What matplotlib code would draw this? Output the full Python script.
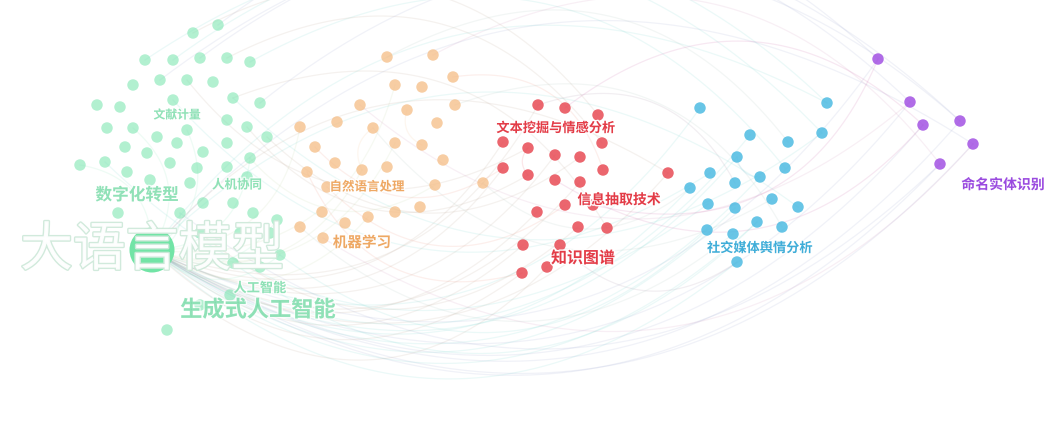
import numpy as np
import matplotlib
matplotlib.use('Agg')
import matplotlib.pyplot as plt
import matplotlib.patheffects as pe
from matplotlib.colors import to_rgb

plt.rcParams['font.family'] = ['Noto Sans CJK SC', 'DejaVu Sans']

# node positions (pixel coords), one list per cluster
green_x = [152, 218, 193, 145, 173, 200, 227, 250, 133, 160, 187, 213, 233, 97, 120, 173, 260,
           107, 133, 157, 187, 227, 247, 125, 147, 177, 203, 227, 267, 80, 105, 127, 170, 197,
           227, 250, 150, 190, 247, 118, 180, 203, 233, 253, 277, 200, 240, 270, 233, 260, 280,
           230, 200, 167]
green_y = [250, 25, 33, 60, 60, 58, 58, 62, 85, 80, 80, 82, 98, 105, 107, 100, 103,
           128, 128, 137, 130, 120, 127, 147, 153, 143, 152, 143, 137, 165, 162, 172, 163, 168,
           167, 158, 180, 183, 177, 213, 213, 203, 203, 213, 220, 233, 233, 233, 263, 267, 255,
           295, 305, 330]
orange_x = [387, 433, 453, 395, 422, 360, 407, 455, 300, 337, 373, 437, 315, 395, 422, 443, 307,
            335, 362, 387, 327, 435, 483, 322, 368, 395, 420, 300, 345, 323]
orange_y = [57, 55, 77, 85, 87, 105, 110, 105, 127, 122, 128, 123, 147, 143, 145, 160, 172,
            163, 170, 167, 187, 185, 183, 212, 217, 212, 207, 227, 223, 238]
red_x = [538, 565, 598, 503, 528, 555, 580, 602, 503, 528, 555, 580, 603, 668, 537, 565, 593,
         578, 607, 523, 560, 522, 547]
red_y = [105, 108, 115, 142, 148, 155, 157, 143, 168, 175, 180, 182, 170, 173, 212, 205, 205,
         227, 228, 245, 245, 273, 267]
blue_x = [700, 827, 822, 750, 788, 737, 785, 710, 760, 735, 690, 708, 735, 772, 798, 757, 782,
          707, 733, 737]
blue_y = [108, 103, 133, 135, 142, 157, 168, 173, 177, 183, 188, 204, 208, 199, 207, 222, 227,
          230, 234, 262]
purple_x = [878, 910, 923, 960, 973, 940]
purple_y = [59, 102, 125, 121, 144, 164]

# links between nodes: (cluster, index, cluster, index)
edges = [
    ('g', 0, 'p', 0), ('g', 0, 'p', 1), ('g', 0, 'p', 2), ('g', 0, 'p', 3), ('g', 0, 'p', 4),
    ('g', 0, 'p', 5), ('g', 0, 'b', 0), ('g', 0, 'b', 3), ('g', 0, 'b', 5), ('g', 0, 'b', 8),
    ('g', 0, 'b', 10), ('g', 0, 'b', 12), ('g', 0, 'b', 15), ('g', 0, 'b', 19), ('g', 0, 'r', 0),
    ('g', 0, 'r', 3), ('g', 0, 'r', 5), ('g', 0, 'r', 8), ('g', 0, 'r', 11), ('g', 0, 'r', 13),
    ('g', 0, 'r', 14), ('g', 0, 'r', 19), ('g', 0, 'r', 21), ('g', 0, 'o', 3), ('g', 0, 'o', 8),
    ('g', 0, 'o', 13), ('g', 0, 'o', 18), ('g', 0, 'o', 24),
    ('p', 0, 'g', 1), ('p', 1, 'g', 5), ('p', 3, 'g', 9), ('p', 4, 'g', 0), ('p', 5, 'o', 1),
    ('b', 1, 'g', 0), ('b', 2, 'g', 3), ('b', 4, 'o', 0), ('b', 6, 'g', 7), ('r', 2, 'g', 2),
    ('r', 7, 'g', 6), ('r', 12, 'o', 2), ('r', 13, 'g', 0), ('b', 9, 'r', 0), ('b', 14, 'g', 0),
    ('p', 2, 'r', 1), ('b', 16, 'o', 7), ('r', 18, 'g', 12), ('p', 3, 'g', 16), ('b', 1, 'g', 4),
    ('g', 10, 'r', 4), ('g', 15, 'b', 7), ('g', 22, 'r', 9), ('g', 30, 'b', 11), ('g', 40, 'p', 5),
    ('g', 45, 'r', 17), ('g', 50, 'b', 17), ('o', 10, 'b', 13), ('o', 20, 'r', 15), ('o', 27, 'b', 18),
    ('o', 29, 'p', 4), ('r', 10, 'p', 2), ('r', 20, 'b', 19), ('o', 16, 'r', 21), ('g', 52, 'r', 22),
    ('g', 48, 'b', 15), ('g', 35, 'o', 21), ('g', 28, 'r', 6), ('o', 5, 'p', 1), ('g', 12, 'b', 2),
    ('g', 0, 'g', 20), ('g', 0, 'g', 35), ('g', 0, 'g', 40), ('g', 0, 'g', 44), ('g', 0, 'g', 50),
    ('g', 0, 'g', 18), ('g', 0, 'g', 29), ('o', 6, 'o', 14), ('o', 10, 'o', 18), ('r', 4, 'r', 9),
    ('b', 5, 'b', 8), ('o', 12, 'r', 8), ('o', 22, 'b', 10), ('r', 16, 'p', 0),
]

# labels
label_text = ['大语言模型', '生成式人工智能', '人工智能', '数字化转型', '人机协同', '文献计量',
              '自然语言处理', '机器学习', '文本挖掘与情感分析', '信息抽取技术', '知识图谱',
              '社交媒体舆情分析', '命名实体识别']
label_x = [152, 258, 260, 137, 237, 177, 367, 362, 556, 619, 583, 760, 1003]
label_y = [250, 310, 288, 195, 185, 115, 187, 242, 128, 200, 258, 248, 185]
label_group = ['g', 'g', 'g', 'g', 'g', 'g', 'o', 'o', 'r', 'r', 'r', 'b', 'p']
label_size = [38, 16, 9.5, 12, 9, 8.5, 9, 10.5, 9.5, 10, 11.5, 9.5, 10]

pos = {'g': (green_x, green_y), 'o': (orange_x, orange_y), 'r': (red_x, red_y),
       'b': (blue_x, blue_y), 'p': (purple_x, purple_y)}
node_col = {'g': '#7fe6b2', 'o': '#f5bd85', 'r': '#e84b55', 'b': '#4dbbe2', 'p': '#a352e3'}
node_alpha = {'g': 0.6, 'o': 0.75, 'r': 0.85, 'b': 0.85, 'p': 0.85}
text_col = {'g': '#6fd9a2', 'o': '#eea45c', 'r': '#e2323e', 'b': '#35a9d6', 'p': '#9541de'}

fig = plt.figure(figsize=(10.63, 4.32), dpi=100)
ax = fig.add_axes([0, 0, 1, 1])
ax.set_xlim(0, 1063)
ax.set_ylim(432, 0)
ax.axis('off')

# curved edges (clockwise quadratic curves)
t = np.linspace(0, 1, 60)[:, None]
for ga, ia, gb, ib in edges:
    p0 = np.array([pos[ga][0][ia], pos[ga][1][ia]], float)
    p2 = np.array([pos[gb][0][ib], pos[gb][1][ib]], float)
    d = p2 - p0
    p1 = (p0 + p2) / 2 + 0.42 * np.array([-d[1], d[0]])
    pts = (1 - t) ** 2 * p0 + 2 * (1 - t) * t * p1 + t ** 2 * p2
    c = (np.array(to_rgb(node_col[ga])) + np.array(to_rgb(node_col[gb]))) / 2
    ax.plot(pts[:, 0], pts[:, 1], color=c, alpha=0.13, lw=0.9, zorder=1)

for g in ['g', 'o', 'r', 'b', 'p']:
    xs, ys = pos[g]
    ax.scatter(xs[1:] if g == 'g' else xs, ys[1:] if g == 'g' else ys, s=68,
               color=node_col[g], alpha=node_alpha[g], edgecolors='none', zorder=2)
# hub node
ax.scatter(green_x[0], green_y[0], s=1050, color='#72e4a6', edgecolors='none', zorder=2)

for txt, x, y, g, fs in zip(label_text, label_x, label_y, label_group, label_size):
    if fs > 30:
        ax.text(x, y, txt, fontsize=fs, ha='center', va='center', color='white', alpha=0.95,
                path_effects=[pe.Stroke(linewidth=2.0, foreground='#cfe9da'), pe.Normal()],
                zorder=4)
    else:
        a = 0.7 if g == 'g' else 0.95
        ax.text(x, y, txt, fontsize=fs, ha='center', va='center', color=text_col[g],
                fontweight='bold', alpha=a,
                path_effects=[pe.withStroke(linewidth=2, foreground='white')], zorder=4)

fig.savefig('out.png', dpi=100, facecolor='white')
